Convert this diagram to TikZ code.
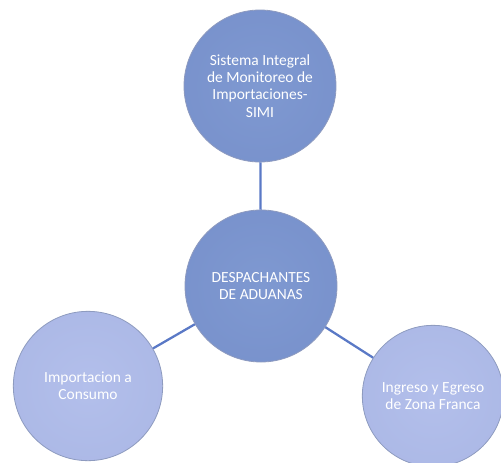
\documentclass[tikz,border=0pt]{standalone}
\usepackage{fontspec}
\setmainfont{Carlito}

\definecolor{darkin}{HTML}{7F99D1}
\definecolor{darkmid}{HTML}{7790CB}
\definecolor{darkout}{HTML}{6880BD}
\definecolor{lightin}{HTML}{B3BFEB}
\definecolor{lightmid}{HTML}{AAB7E5}
\definecolor{lightout}{HTML}{96A3D4}
\definecolor{rimgray}{HTML}{8E9BBF}
\definecolor{linkblue}{HTML}{5A79C6}

\pgfdeclareradialshading{darkball}{\pgfpoint{0bp}{0bp}}{color(0bp)=(darkin); color(34bp)=(darkmid); color(46bp)=(darkout); color(50bp)=(darkout)}
\pgfdeclareradialshading{lightball}{\pgfpoint{0bp}{0bp}}{color(0bp)=(lightin); color(34bp)=(lightmid); color(46bp)=(lightout); color(50bp)=(lightout)}

\begin{document}
\begin{tikzpicture}[x=0.75pt, y=-0.75pt, font=\fontsize{11.6}{13}\selectfont,
    main/.style = {circle, draw=rimgray, line width=0.6pt, minimum size=114pt, inner sep=0pt, align=center, text=white},
    hub/.style = {shading=darkball},
    leaf/.style = {shading=lightball},
    link/.style = {draw=linkblue, line width=1.7pt}]
            \useasboundingbox (0,0) rectangle (501,462);

            \node[main, hub] (0) at (261,286) {DESPACHANTES\\DE ADUANAS};
            \node[main, hub] (1) at (260,86) {Sistema Integral\\de Monitoreo de\\Importaciones-\\SIMI};
            \node[main, leaf, minimum size=112pt] (2) at (88,386) {Importacion a\\Consumo};
            \node[main, leaf, minimum size=106pt] (3) at (433,396) {Ingreso y Egreso\\de Zona Franca};

            % links
            \draw[link] (0) -- (1);
            \draw[link] (0) -- (2);
            \draw[link] (0) -- (3);
        \end{tikzpicture}
\end{document}
